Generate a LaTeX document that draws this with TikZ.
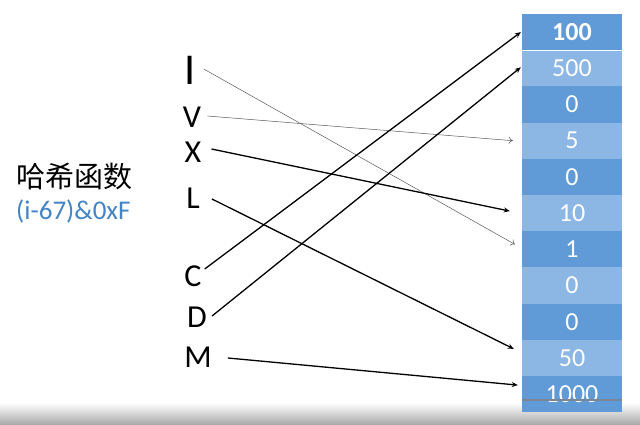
\documentclass[tikz,border=0pt]{standalone}
\usepackage{fontspec}
\setmainfont{Carlito}
\newfontfamily\cjk{Noto Sans CJK SC}
\usetikzlibrary{calc}
\usetikzlibrary{arrows.meta}
\definecolor{celldark}{RGB}{96,155,215}
\definecolor{celllight}{RGB}{140,182,228}
\definecolor{formula}{RGB}{68,132,196}
\definecolor{barline}{RGB}{122,134,150}
\tikzset{
  letter/.style= {font=\fontsize{32}{32}\selectfont, inner sep=0},
  cell/.style= {minimum width=100pt, minimum height=36.2pt, inner sep=0, text=white,
    font=\fontsize{26}{26}\selectfont},
  link/.style= {-{Stealth[length=6pt,width=5pt]}, line width=1.3pt},
  faint/.style= {-{To[length=4pt,width=7pt]}, line width=0.5pt, black!65},
}

\begin{document}
\begin{tikzpicture}[x=1pt, y=-1pt]
  \useasboundingbox (0,0) rectangle (640,425);
  \shade [top color=white, bottom color=black!35] (0,403) rectangle (640,425);

  % hash table
  \node [cell, fill=celldark, font=\bfseries\fontsize{26}{26}\selectfont] (h0) at (572,32.1) {100};
  \foreach \v/\c [count=\i] in {500/celllight, 0/celldark, 5/celllight, 0/celldark,
      10/celllight, 1/celldark, 0/celllight, 0/celldark, 50/celllight, 1000/celldark}
    \node [cell, fill=\c] (h\i) at (572,32.1+36.2*\i) {\v};
  \draw [white, line width=1.5pt] (h0.south west) -- (h0.south east);
  \draw [barline, line width=2pt] ($(h10.west)+(0,6)$) -- ($(h10.east)+(0,6)$);

  % roman numerals
  \node [letter, font=\fontsize{44}{44}\selectfont] (I) at (190,70) {I};
  \node [letter] (V) at (192,117) {V};
  \node [letter] (X) at (193,152) {X};
  \node [letter] (L) at (193,198) {L};
  \node [letter] (C) at (193,276) {C};
  \node [letter] (D) at (197,317) {D};
  \node [letter] (M) at (198,357) {M};

  \node [anchor=west, font=\cjk\fontsize{29}{29}\selectfont, inner sep=0] (title) at (16,176) {哈希函数};
  \node [anchor=west, text=formula, font=\fontsize{27}{27}\selectfont, inner sep=0] (rule) at (16,211) {(i-67)\&0xF};

  % mapping
  \draw [faint] ($(I.east)+(8,-1)$) -- ($(h6.west)+(-7,-5)$);
  \draw [faint] ($(V.east)+(6,-1)$) -- ($(h3.west)+(-9,0)$);
  \draw [link] ($(X.east)+(10,-3)$) -- ($(h5.west)+(-12,-2)$);
  \draw [link] ($(L.east)+(12,1)$) -- ($(h9.west)+(-8,-9)$);
  \draw [link] ($(C.east)+(3,-7)$) -- ($(h0.west)+(-1,0)$);
  \draw [link] ($(D.east)+(5,-1)$) -- ($(h1.west)+(-1,-1)$);
  \draw [link] ($(M.east)+(16,1)$) -- ($(h10.west)+(-4,-9)$);
\end{tikzpicture}
\end{document}
